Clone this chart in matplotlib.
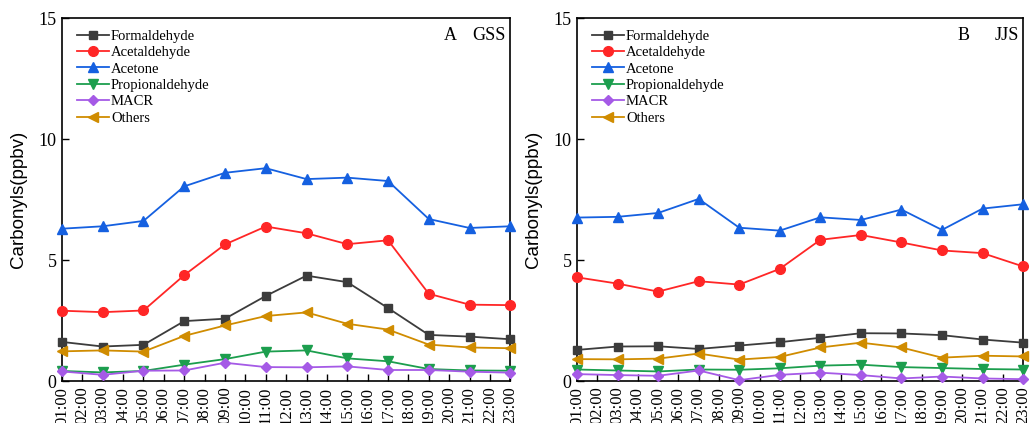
import matplotlib.pyplot as plt

hours = [1, 3, 5, 7, 9, 11, 13, 15, 17, 19, 21, 23]
tick_hours = list(range(1, 24))
tick_labels = [f"{h:02d}:00" for h in tick_hours]

names = ["Formaldehyde", "Acetaldehyde", "Acetone", "Propionaldehyde", "MACR", "Others"]
colors = ["#3c3c3c", "#ff2626", "#1560e0", "#1c9e4e", "#a55ae6", "#d08c00"]
markers = ["s", "o", "^", "v", "D", "<"]
sizes = [6, 7, 7, 7, 5.5, 7]

# GSS site
gss_formaldehyde = [1.62, 1.43, 1.50, 2.48, 2.58, 3.52, 4.36, 4.09, 3.02, 1.91, 1.84, 1.73]
gss_acetaldehyde = [2.91, 2.85, 2.92, 4.38, 5.65, 6.39, 6.11, 5.66, 5.82, 3.61, 3.16, 3.14]
gss_acetone = [6.30, 6.40, 6.62, 8.05, 8.61, 8.80, 8.35, 8.41, 8.27, 6.70, 6.33, 6.40]
gss_propionaldehyde = [0.42, 0.36, 0.42, 0.68, 0.91, 1.22, 1.27, 0.94, 0.82, 0.50, 0.44, 0.43]
gss_macr = [0.40, 0.26, 0.43, 0.44, 0.76, 0.58, 0.57, 0.61, 0.46, 0.46, 0.39, 0.35]
gss_others = [1.23, 1.27, 1.22, 1.87, 2.30, 2.69, 2.84, 2.37, 2.13, 1.51, 1.39, 1.36]

# JJS site
jjs_formaldehyde = [1.29, 1.43, 1.44, 1.33, 1.47, 1.61, 1.79, 1.98, 1.97, 1.90, 1.72, 1.59]
jjs_acetaldehyde = [4.29, 4.03, 3.70, 4.13, 3.99, 4.64, 5.84, 6.04, 5.73, 5.40, 5.29, 4.74]
jjs_acetone = [6.76, 6.79, 6.95, 7.53, 6.34, 6.22, 6.77, 6.66, 7.09, 6.25, 7.13, 7.31]
jjs_propionaldehyde = [0.48, 0.44, 0.40, 0.48, 0.47, 0.53, 0.64, 0.68, 0.58, 0.54, 0.50, 0.48]
jjs_macr = [0.29, 0.25, 0.22, 0.44, 0.04, 0.26, 0.35, 0.25, 0.11, 0.19, 0.11, 0.08]
jjs_others = [0.91, 0.90, 0.93, 1.14, 0.89, 1.00, 1.39, 1.59, 1.39, 0.97, 1.05, 1.02]

panels = [
    ("A", "GSS", [gss_formaldehyde, gss_acetaldehyde, gss_acetone, gss_propionaldehyde, gss_macr, gss_others]),
    ("B", "JJS", [jjs_formaldehyde, jjs_acetaldehyde, jjs_acetone, jjs_propionaldehyde, jjs_macr, jjs_others]),
]

serif = "Liberation Serif"
fig = plt.figure(figsize=(10.33, 4.23), dpi=100)
rects = [[0.060, 0.099, 0.434, 0.858], [0.5586, 0.099, 0.4318, 0.858]]

for rect, (letter, site, series) in zip(rects, panels):
    ax = fig.add_axes(rect)
    for vals, name, c, m, s in zip(series, names, colors, markers, sizes):
        ax.plot(hours, vals, color=c, marker=m, markersize=s, linewidth=1.3,
                label=name, clip_on=False, zorder=3)
    ax.set_xlim(1, 23)
    ax.set_ylim(0, 15)
    ax.set_yticks([0, 5, 10, 15])
    ax.set_xticks(tick_hours)
    ax.set_xticklabels(tick_labels, rotation=90, fontfamily=serif, fontsize=12)
    for t in ax.get_yticklabels():
        t.set_fontfamily(serif)
        t.set_fontsize(13)
    ax.tick_params(direction="in", length=5, width=1, top=False, right=False, pad=4)
    for sp in ax.spines.values():
        sp.set_linewidth(1.2)
    ax.set_ylabel("Carbonyls(ppbv)", fontfamily="Liberation Sans", fontsize=13.5, labelpad=8)
    ax.text(0.866, 0.975, letter, transform=ax.transAxes, fontfamily=serif, fontsize=13,
            ha="center", va="top")
    ax.text(0.99, 0.975, site, transform=ax.transAxes, fontfamily=serif, fontsize=13,
            ha="right", va="top")
    ax.legend(loc="upper left", frameon=False, prop={"family": serif, "size": 10.5},
              handlelength=2.2, handletextpad=0.15, labelspacing=0.22,
              borderaxespad=0.0, bbox_to_anchor=(0.02, 0.985))

fig.savefig("out.png", dpi=100)
